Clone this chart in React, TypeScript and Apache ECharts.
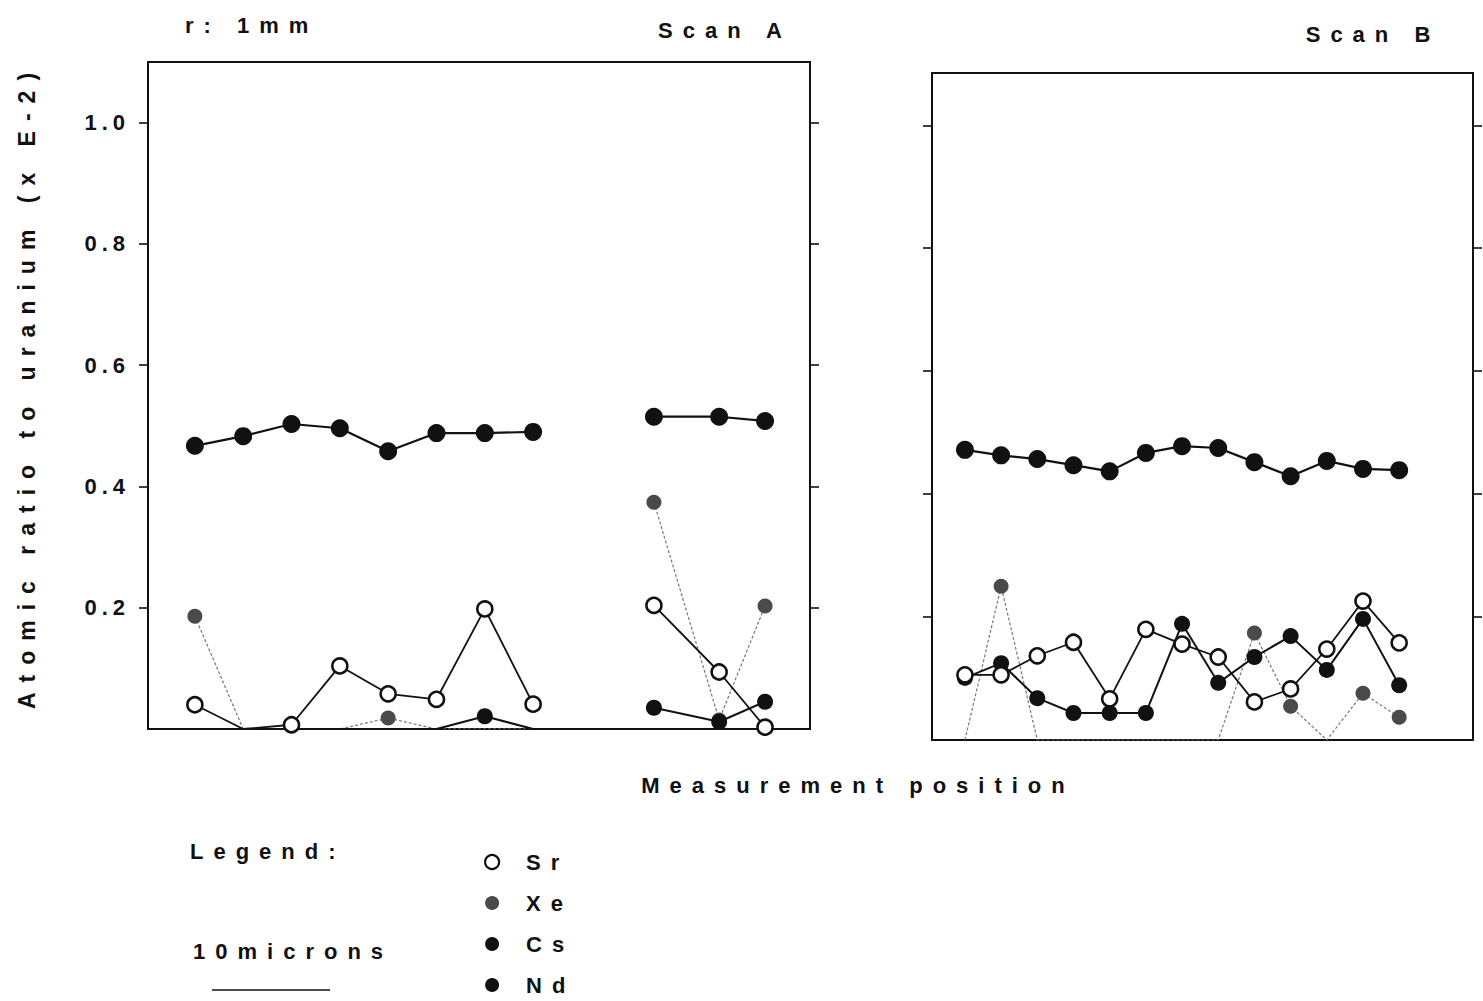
import React, { useEffect, useRef } from "react";
import * as echarts from "echarts";

// ---- data ----
const posA1 = [1, 2, 3, 4, 5, 6, 7, 8];
const posA2 = [10.5, 11.85, 12.8];
const posB = [1, 2, 3, 4, 5, 6, 7, 8, 9, 10, 11, 12, 13];

const ndA1 = [0.467, 0.483, 0.503, 0.496, 0.458, 0.488, 0.488, 0.49];
const ndA2 = [0.515, 0.515, 0.508];
const srA1 = [0.04, 0, 0.007, 0.104, 0.058, 0.049, 0.198, 0.041];
const srA2 = [0.204, 0.094, 0.003];
const csA1 = [0, 0, 0, 0, 0, 0, 0.021, 0];
const csA2 = [0.035, 0.012, 0.045];
const xeA1 = [0.186, 0, 0, 0, 0.018, 0, 0, 0];
const xeA2 = [0.374, 0.015, 0.203];

const ndB = [0.472, 0.463, 0.457, 0.447, 0.437, 0.467, 0.478, 0.475, 0.452, 0.429, 0.454, 0.441, 0.439];
const srB = [0.106, 0.106, 0.137, 0.159, 0.067, 0.18, 0.156, 0.135, 0.062, 0.083, 0.148, 0.226, 0.158];
const csB = [0.101, 0.125, 0.068, 0.044, 0.044, 0.044, 0.189, 0.093, 0.135, 0.169, 0.114, 0.197, 0.089];
const xeB = [0, 0.25, 0, 0, 0, 0, 0, 0, 0.174, 0.055, 0, 0.076, 0.037];

const yTicks = [0.2, 0.4, 0.6, 0.8, 1.0];
const elements = ["Sr", "Xe", "Cs", "Nd"];

const FONT = "'Liberation Sans', Arial, Helvetica, sans-serif";
const INK = "#111";

const seriesStyle: Record<string, any> = {
  Sr: {
    symbolSize: 15,
    itemStyle: { color: "#fff", borderColor: INK, borderWidth: 2.6 },
    lineStyle: { color: INK, width: 1.8 },
    z: 4,
  },
  Xe: {
    symbolSize: 15,
    itemStyle: { color: "#4a4a4a" },
    lineStyle: { color: "#777", width: 1.2, type: [3, 2] },
    z: 2,
  },
  Cs: {
    symbolSize: 16,
    itemStyle: { color: INK },
    lineStyle: { color: INK, width: 2 },
    z: 3,
  },
  Nd: {
    symbolSize: 18,
    itemStyle: { color: INK },
    lineStyle: { color: INK, width: 2.2 },
    z: 5,
  },
};

function mk(name: string, pos: number[], vals: number[], grid: number) {
  const st = seriesStyle[name];
  return {
    type: "line",
    name,
    xAxisIndex: grid,
    yAxisIndex: grid * 2,
    symbol: "circle",
    symbolSize: st.symbolSize,
    itemStyle: st.itemStyle,
    lineStyle: st.lineStyle,
    z: st.z,
    silent: true,
    data: vals.map((v, i) => ({
      value: [pos[i], v],
      symbolSize: v === 0 ? 0 : st.symbolSize,
    })),
  };
}

function yAx(grid: number, pos: "left" | "right", labels: boolean, max: number) {
  return {
    type: "value",
    gridIndex: grid,
    position: pos,
    min: 0,
    max,
    interval: 0.2,
    splitLine: { show: false },
    axisLine: { show: false },
    axisTick: {
      show: true,
      inside: false,
      length: 9,
      customValues: yTicks,
      lineStyle: { color: INK, width: 1.6 },
    },
    axisLabel: {
      show: labels,
      customValues: yTicks,
      margin: 18,
      color: INK,
      fontSize: 22,
      fontWeight: "bold",
      fontFamily: FONT,
      formatter: (v: number) => (v > 0.05 && v < 1.05 ? v.toFixed(1) : ""),
    },
  };
}

function xAx(grid: number, min: number, max: number) {
  return {
    type: "value",
    gridIndex: grid,
    min,
    max,
    axisLine: { show: false },
    axisTick: { show: false },
    axisLabel: { show: false },
    splitLine: { show: false },
  };
}

function txt(text: string, x: number, y: number, align: string, extra: any = {}, size = 22) {
  return {
    type: "text",
    x,
    y,
    silent: true,
    ...extra,
    style: {
      text,
      fill: INK,
      font: `bold ${size}px ${FONT}`,
      textAlign: align,
      textVerticalAlign: "middle",
    },
  };
}

export default function App() {
  const ref = useRef<HTMLDivElement>(null);
  useEffect(() => {
    if (!ref.current) return;
    const chart = echarts.init(ref.current, undefined, { renderer: "svg" });
    const series: any[] = [];
    // order: Xe, Cs, Sr, Nd
    const orderA: [string, number[], number[]][] = [
      ["Xe", xeA1, xeA2],
      ["Cs", csA1, csA2],
      ["Sr", srA1, srA2],
      ["Nd", ndA1, ndA2],
    ];
    orderA.forEach(([n, g1, g2]) => {
      series.push(mk(n, posA1, g1, 0));
      series.push(mk(n, posA2, g2, 0));
    });
    const orderB: [string, number[]][] = [
      ["Xe", xeB],
      ["Cs", csB],
      ["Sr", srB],
      ["Nd", ndB],
    ];
    orderB.forEach(([n, v]) => series.push(mk(n, posB, v, 1)));

    chart.setOption({
      animation: false,
      backgroundColor: "#fff",
      textStyle: { fontFamily: FONT },
      grid: [
        { left: 148, top: 62, width: 662, height: 667, show: true, borderColor: INK, borderWidth: 2, backgroundColor: "transparent" },
        { left: 932, top: 73, width: 541, height: 667, show: true, borderColor: INK, borderWidth: 2, backgroundColor: "transparent" },
      ],
      xAxis: [xAx(0, 0.03, 13.73), xAx(1, 0.09, 15.04)],
      yAxis: [
        yAx(0, "left", true, 1.1),
        yAx(0, "right", false, 1.1),
        yAx(1, "left", false, 1.085),
        yAx(1, "right", false, 1.085),
      ],
      legend: {
        orient: "vertical",
        left: 484,
        top: 851,
        padding: 0,
        itemGap: 19,
        itemWidth: 22,
        itemHeight: 14,
        selectedMode: false,
        textStyle: {
          fontSize: 22,
          fontWeight: "bold",
          color: INK,
          fontFamily: FONT,
          padding: [0, 0, 0, 18],
        },
        data: elements.map((n) => {
          const st = seriesStyle[n];
          return {
            name: n,
            icon: "circle",
            itemStyle:
              n === "Sr"
                ? { color: "#fff", borderColor: INK, borderWidth: 2.2 }
                : { color: st.itemStyle.color },
          };
        }),
      },
      graphic: [
        txt("r: 1mm", 185, 25, "left"),
        txt("Scan A", 725, 30, "center"),
        txt("Scan B", 1373, 34, "center"),
        txt("Atomic ratio to uranium (x E-2)", 27, 386, "center", { rotation: Math.PI / 2 }, 23),
        txt("Measurement position", 858, 785, "center"),
        txt("Legend:", 190, 851, "left"),
        txt("10microns", 193, 951, "left"),
        {
          type: "line",
          silent: true,
          shape: { x1: 212, y1: 990, x2: 330, y2: 990 },
          style: { stroke: INK, lineWidth: 1.5 },
        },
      ],
      series,
    });
    return () => chart.dispose();
  }, []);

  return (
    <>
      <style>{`
        body { margin: 0; }
        #chartbox svg text { letter-spacing: 10px; }
        #chartbox svg text[text-anchor="end"] { letter-spacing: 5px; }
      `}</style>
      <div
        id="chartbox"
        ref={ref}
        style={{ position: "fixed", left: 0, top: 0, width: 1483, height: 1001, background: "#fff" }}
      />
    </>
  );
}
